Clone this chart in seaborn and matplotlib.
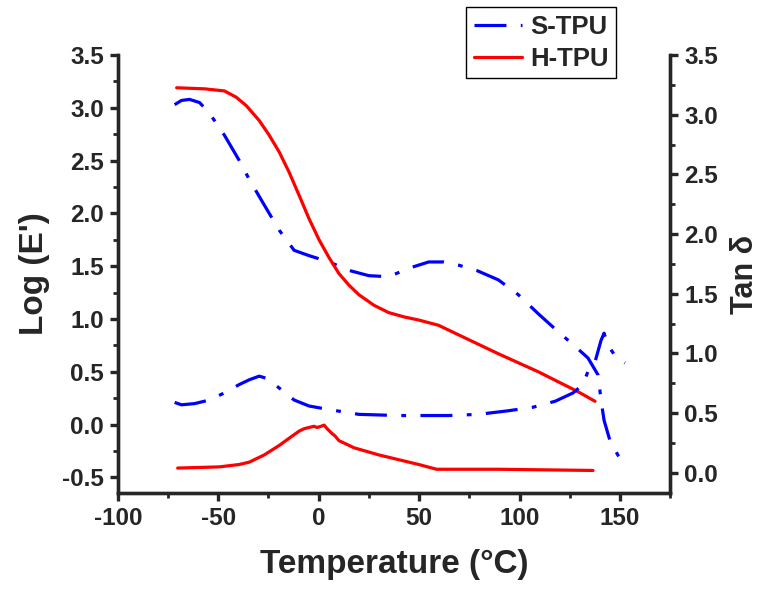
import matplotlib
matplotlib.use("Agg")
import matplotlib.pyplot as plt
from matplotlib.ticker import MultipleLocator
import seaborn as sns

# S-TPU storage modulus (left axis)
s_logE_T = [-71.7, -68.3, -64.3, -59.3, -54.4, -46.9, -39.5, -34.5, -27.1, -19.6,
            -12.2, -4.8, 5.2, 15.1, 25.0, 34.9, 44.8, 54.8, 62.2, 69.6,
            78.6, 89.5, 99.4, 109.3, 119.2, 127.7, 134.1, 139.1, 140.6, 142.1,
            145.0, 149.0, 152.5]
s_logE = [3.03, 3.07, 3.08, 3.05, 2.95, 2.74, 2.50, 2.32, 2.08, 1.84,
          1.65, 1.60, 1.54, 1.46, 1.41, 1.40, 1.48, 1.54, 1.54, 1.51,
          1.46, 1.37, 1.23, 1.05, 0.88, 0.74, 0.63, 0.47, 0.23, 0.04,
          -0.15, -0.29, -0.37]

# S-TPU tan delta (right axis)
s_tan_T = [-71.7, -68.3, -61.8, -54.4, -46.9, -39.5, -34.5, -29.6, -25.6, -19.6,
           -12.2, -4.8, 5.2, 20.0, 39.9, 64.7, 79.6, 94.4, 106.8, 117.8,
           126.7, 131.6, 134.1, 137.6, 140.6, 142.1, 144.0, 148.0, 152.5]
s_tan = [0.59, 0.57, 0.58, 0.61, 0.67, 0.74, 0.78, 0.81, 0.79, 0.71,
         0.61, 0.56, 0.53, 0.49, 0.48, 0.48, 0.49, 0.52, 0.55, 0.60,
         0.67, 0.74, 0.85, 0.93, 1.11, 1.17, 1.07, 0.97, 0.92]

# H-TPU storage modulus (left axis)
h_logE_T = [-70.7, -56.8, -46.9, -41.0, -36.0, -29.6, -24.6, -19.6, -14.7, -9.7,
            -4.8, 0.2, 5.2, 10.1, 15.1, 20.0, 27.5, 34.9, 42.4, 49.8,
            59.7, 69.6, 89.5, 109.3, 129.2, 137.6]
h_logE = [3.19, 3.18, 3.16, 3.10, 3.02, 2.88, 2.74, 2.58, 2.39, 2.17,
          1.95, 1.75, 1.58, 1.43, 1.32, 1.23, 1.13, 1.06, 1.02, 0.99,
          0.94, 0.85, 0.67, 0.50, 0.31, 0.22]

# H-TPU tan delta (right axis)
h_tan_T = [-70.2, -49.4, -39.5, -34.5, -27.1, -19.6, -14.7, -9.7, -7.2, -4.8,
           -2.3, -0.8, 1.2, 2.7, 4.2, 6.6, 8.1, 10.1, 12.6, 17.6,
           30.0, 39.9, 49.8, 58.7, 89.5, 136.6]
h_tan = [0.04, 0.05, 0.07, 0.09, 0.15, 0.23, 0.29, 0.35, 0.37, 0.38,
         0.39, 0.38, 0.39, 0.40, 0.37, 0.33, 0.31, 0.27, 0.25, 0.21,
         0.15, 0.11, 0.07, 0.03, 0.03, 0.02]

sns.set_style("ticks")
plt.rcParams['font.family'] = ['Liberation Sans', 'DejaVu Sans']
plt.rcParams['font.weight'] = 'bold'
plt.rcParams['axes.unicode_minus'] = False

fig = plt.figure(figsize=(7.65, 5.92), dpi=100)
ax = fig.add_axes([0.154, 0.167, 0.722, 0.740])
ax2 = ax.twinx()

dashdot = (10, 4.5, 1.5, 4.5)
lw = 2.3

sns.lineplot(x=s_logE_T, y=s_logE, ax=ax, color="#0000FF", lw=lw, errorbar=None, label="S-TPU")
ax.lines[-1].set_dashes(dashdot)
sns.lineplot(x=h_logE_T, y=h_logE, ax=ax, color="#FF0000", lw=lw, errorbar=None, label="H-TPU")
sns.lineplot(x=s_tan_T, y=s_tan, ax=ax2, color="#0000FF", lw=lw, errorbar=None, legend=False)
ax2.lines[-1].set_dashes(dashdot)
sns.lineplot(x=h_tan_T, y=h_tan, ax=ax2, color="#FF0000", lw=lw, errorbar=None, legend=False)

ax.set_xlim(-100, 175)
ax.set_ylim(-0.65, 3.5)
ax2.set_ylim(-0.17, 3.5)

for a in (ax, ax2):
    a.spines['top'].set_visible(False)
    for s in a.spines.values():
        s.set_linewidth(2.4)
    a.tick_params(which='major', length=6, width=2.4, direction='out', pad=4)
    a.tick_params(which='minor', length=3.5, width=2.0, direction='out')

ax.xaxis.set_major_locator(MultipleLocator(50))
ax.xaxis.set_minor_locator(MultipleLocator(25))
ax.yaxis.set_minor_locator(MultipleLocator(0.25))
ax2.yaxis.set_minor_locator(MultipleLocator(0.25))
ax.set_yticks([-0.5, 0.0, 0.5, 1.0, 1.5, 2.0, 2.5, 3.0, 3.5])
ax.set_yticklabels(["-0.5", "0.0", "0.5", "1.0", "1.5", "2.0", "2.5", "3.0", "3.5"])
ax2.set_yticks([0.0, 0.5, 1.0, 1.5, 2.0, 2.5, 3.0, 3.5])
ax2.set_yticklabels(["0.0", "0.5", "1.0", "1.5", "2.0", "2.5", "3.0", "3.5"])
ax.set_xticks([-100, -50, 0, 50, 100, 150])
ax.set_xticklabels(["-100", "-50", "0", "50", "100", "150"])
for lab in ax.get_yticklabels() + ax2.get_yticklabels() + ax.get_xticklabels():
    lab.set_fontweight('bold')
    lab.set_fontsize(17.5)

ax.set_xlabel("Temperature (°C)", fontsize=24, fontweight='bold', labelpad=14)
ax.set_ylabel("Log (E')", fontsize=24, fontweight='bold', labelpad=9)
ax2.set_ylabel("Tan δ", fontsize=22, fontweight='bold', labelpad=9)

handles, labels = ax.get_legend_handles_labels()
ax.get_legend().remove()
leg = fig.legend(handles, labels, loc='upper left', bbox_to_anchor=(0.609, 0.988),
                 bbox_transform=fig.transFigure, fancybox=False, framealpha=1,
                 edgecolor='black', prop={'size': 18.5, 'weight': 'bold'},
                 handlelength=1.9, handletextpad=0.3, borderpad=0.3,
                 labelspacing=0.3, borderaxespad=0)
leg.get_frame().set_linewidth(1.0)

fig.savefig("out.png", dpi=100)
